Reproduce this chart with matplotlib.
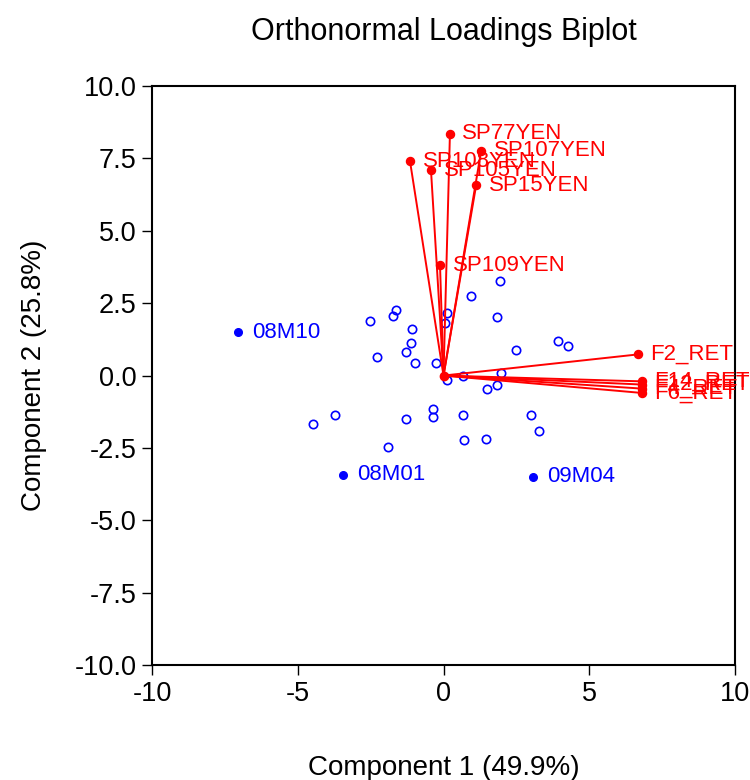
import matplotlib
matplotlib.use("Agg")
import matplotlib.pyplot as plt
from matplotlib.ticker import FormatStrFormatter

plt.rcParams['font.family'] = ['Liberation Sans', 'DejaVu Sans']
plt.rcParams['axes.unicode_minus'] = False

# loadings (red vectors)
load_names = ["SP77YEN", "SP107YEN", "SP108YEN", "SP105YEN", "SP15YEN", "SP109YEN",
              "F2_RET", "F14_RET", "F12_RET", "F4_RET", "F6_RET"]
load_x = [0.22, 1.29, -1.15, -0.43, 1.12, -0.12, 6.67, 6.81, 6.81, 6.81, 6.81]
load_y = [8.34, 7.75, 7.40, 7.09, 6.57, 3.81, 0.73, -0.20, -0.31, -0.45, -0.60]

# labelled observations
obs_names = ["08M10", "08M01", "09M04"]
obs_x = [-7.05, -3.45, 3.07]
obs_y = [1.49, -3.43, -3.49]

# other observations (open circles)
pts_x = [1.93, 0.95, -1.62, -1.73, -2.51, 0.11, 0.06, 1.84, -1.07, -1.11, -1.30,
         -2.28, -0.99, -0.26, 2.48, 3.94, 4.26, 0.67, 0.11, 1.97, 1.83, 1.48,
         -3.71, -4.47, -0.35, -0.35, -1.28, 0.67, 3.00, 3.28, 0.70, 1.47, -1.91]
pts_y = [3.26, 2.76, 2.28, 2.05, 1.90, 2.15, 1.82, 2.01, 1.60, 1.11, 0.81,
         0.65, 0.42, 0.42, 0.87, 1.19, 1.01, -0.01, -0.16, 0.08, -0.32, -0.45,
         -1.35, -1.66, -1.17, -1.43, -1.51, -1.35, -1.37, -1.90, -2.21, -2.19, -2.48]

fig = plt.figure(figsize=(7.5, 7.8), dpi=100)
ax = fig.add_axes([0.2027, 0.147, 0.7773, 0.743])

ax.plot(pts_x, pts_y, 'o', mfc='none', mec='blue', ms=6, mew=1.2, ls='none')

for x, y, n in zip(obs_x, obs_y, obs_names):
    ax.plot(x, y, 'o', color='blue', ms=5.5)
    ax.annotate(n, (x, y), xytext=(10, 0), textcoords='offset points',
                va='center', ha='left', color='blue', fontsize=16)

for x, y, n in zip(load_x, load_y, load_names):
    ax.plot([0, x], [0, y], color='red', lw=1.4)
    ax.plot(x, y, 'o', color='red', ms=5.8)
    ax.annotate(n, (x, y), xytext=(9, 0), textcoords='offset points',
                va='center', ha='left', color='red', fontsize=16,
                annotation_clip=False)
ax.plot(0, 0, 'o', color='red', ms=6)

ax.set_xlim(-10, 10)
ax.set_ylim(-10, 10)
ax.set_xticks([-10, -5, 0, 5, 10])
ax.set_yticks([-10, -7.5, -5, -2.5, 0, 2.5, 5, 7.5, 10])
ax.yaxis.set_major_formatter(FormatStrFormatter('%.1f'))
ax.tick_params(direction='out', length=7, width=1, labelsize=19.5, pad=4)
for s in ax.spines.values():
    s.set_linewidth(1.5)

ax.set_title("Orthonormal Loadings Biplot", fontsize=22, pad=33)
ax.set_xlabel("Component 1 (49.9%)", fontsize=20, labelpad=35)
ax.set_ylabel("Component 2 (25.8%)", fontsize=20, labelpad=20)

fig.savefig("out.png", dpi=100)
